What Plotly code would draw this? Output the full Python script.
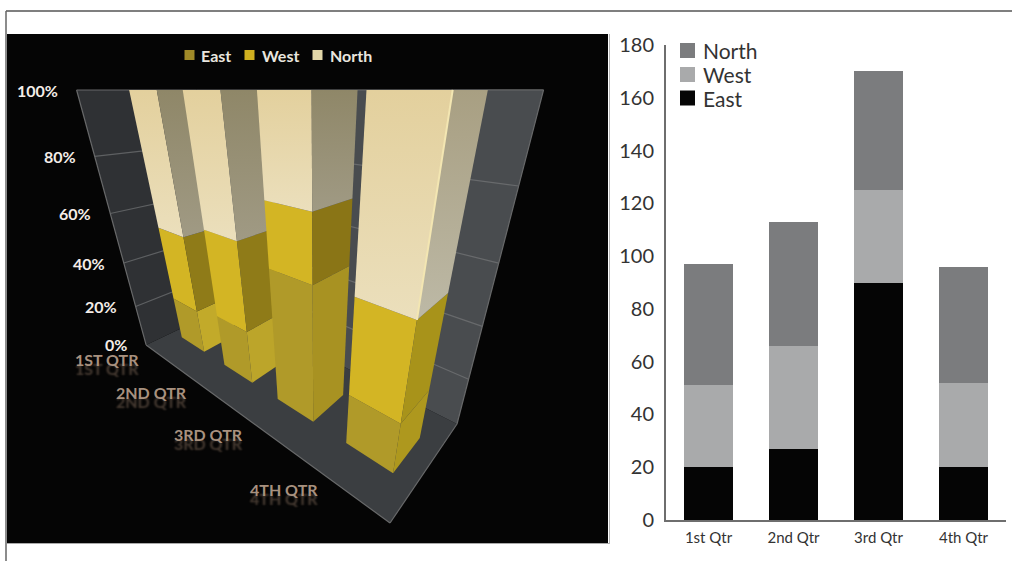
import numpy as np
import plotly.graph_objects as go

# Quarterly sales by region
categories = ["1st Qtr", "2nd Qtr", "3rd Qtr", "4th Qtr"]
east = [20, 27, 90, 20]
west = [31, 39, 35, 32]
north = [46, 47, 45, 44]
y_ticks = [0, 20, 40, 60, 80, 100, 120, 140, 160, 180]
pct_ticks = [0, 20, 40, 60, 80, 100]

# Fill colours of the 3D panel: front face per region, side face per region and quarter
front_colors = {"East": "#B09A29", "West": "#D3B524", "North": ("#E3D09D", "#EBDFBC")}
legend_colors = {"East": "#A08A28", "West": "#D0B020", "North": "#E3D7A8"}
side_colors = {
    "East": ["#C2AA2A", "#BCA52A", "#A89222", "#AE981E"],
    "West": ["#8F7B18", "#8F7B18", "#8A7516", "#A8931A"],
    "North": [("#8F8768", "#A09A84"), ("#8F8768", "#A09A84"), ("#8F8768", "#A09A84"),
              ("#A89F82", "#BDB9A6")],
}
gray_colors = {"East": "#050505", "West": "#A9AAAB", "North": "#7B7C7E"}

# Camera of the perspective view: eye height is the wall height
FOCAL = 378.7
PRINCIPAL = np.array([316.0, 307.0])
NADIR = np.array([0.0, 0.8677, 0.4971])
AXIS_U = np.array([0.7654, 0.3200, -0.5585])   # along the quarters, far to near
AXIS_V = np.array([0.6435, -0.3805, 0.6640])   # across the floor
FRONT_CORNER = np.array([0.1970, 0.5749, 1.008])
FLOOR_LEN = 1.261
FLOOR_DEPTH = 0.450
BAR_HALF = 0.087


def project(u, v, z):
    p = FRONT_CORNER + (u - FLOOR_LEN) * AXIS_U + v * AXIS_V - z * NADIR
    return PRINCIPAL + FOCAL * p[:2] / p[2]


def polygon(points, color):
    """Filled face; a (top, bottom) colour pair gives a vertical gradient."""
    xy = np.array([project(*pt) for pt in points])
    style = dict(fillcolor=color) if isinstance(color, str) else dict(
        fillgradient=dict(type="vertical", colorscale=[[0, color[1]], [1, color[0]]]))
    return go.Scatter(
        x=xy[:, 0], y=xy[:, 1], mode="lines", fill="toself", line=dict(width=0),
        hoverinfo="skip", showlegend=False, xaxis="x", yaxis="y", **style,
    )


def segment(a, b, color, width=1.2):
    xy = np.array([project(*a), project(*b)])
    return go.Scatter(
        x=xy[:, 0], y=xy[:, 1], mode="lines", line=dict(width=width, color=color),
        hoverinfo="skip", showlegend=False, xaxis="x", yaxis="y",
    )


fig = go.Figure()
L, D = FLOOR_LEN, FLOOR_DEPTH

# Floor and the two walls
fig.add_trace(polygon([(0, 0, 0), (L, 0, 0), (L, D, 0), (0, D, 0)], "#3B3E41"))
fig.add_trace(polygon([(0, 0, 0), (0, D, 0), (0, D, 1), (0, 0, 1)], "#2F3134"))
fig.add_trace(polygon([(0, D, 0), (L, D, 0), (L, D, 1), (0, D, 1)], "#494C4F"))
for pct in pct_ticks[1:-1]:
    z = pct / 100
    fig.add_trace(segment((0, 0, z), (0, D, z), "#5E6062"))
    fig.add_trace(segment((0, D, z), (L, D, z), "#686A6C"))
for a, b in [((0, 0, 0), (0, 0, 1)), ((L, D, 0), (L, D, 1)), ((0, 0, 1), (0, D, 1)),
             ((0, D, 1), (L, D, 1)), ((0, 0, 0), (L, 0, 0)), ((L, 0, 0), (L, D, 0))]:
    fig.add_trace(segment(a, b, "#68696A"))

# 100% stacked columns, far quarter first so nearer ones overlap it
v0, v1 = D / 2 - BAR_HALF, D / 2 + BAR_HALF
for i in range(len(categories)):
    total = east[i] + west[i] + north[i]
    uc = (i + 0.5) * L / len(categories)
    u0, u1 = uc - BAR_HALF, uc + BAR_HALF
    base = 0.0
    for name, vals in (("East", east), ("West", west), ("North", north)):
        top = base + vals[i] / total
        fig.add_trace(polygon([(u0, v0, base), (u1, v0, base), (u1, v0, top), (u0, v0, top)],
                              front_colors[name]))
        fig.add_trace(polygon([(u1, v0, base), (u1, v1, base), (u1, v1, top), (u1, v0, top)],
                              side_colors[name][i]))
        base = top
    if i == len(categories) - 1:
        split = (east[i] + west[i]) / total
        fig.add_trace(segment((u1, v0, split), (u1, v0, 1), "#F3E6B2", 2))

# Legend swatches of the 3D panel
panel_legend = [("East", 189.5, 199), ("West", 249.5, 260), ("North", 317.5, 328)]
for name, sx, _ in panel_legend:
    fig.add_trace(go.Scatter(
        x=[sx], y=[55], mode="markers", hoverinfo="skip", showlegend=False,
        marker=dict(symbol="square", size=10, color=legend_colors[name]),
        xaxis="x", yaxis="y",
    ))

# Flat stacked columns on the right
for name, vals in (("East", east), ("West", west), ("North", north)):
    fig.add_trace(go.Bar(
        x=categories, y=vals, name=name, marker=dict(color=gray_colors[name], line_width=0),
        width=0.565, xaxis="x2", yaxis="y2", showlegend=False,
    ))

annotations = []
for name, _, tx in panel_legend:
    annotations.append(dict(
        x=tx, y=55, xref="x", yref="y", text=f"<b>{name}</b>", showarrow=False, xanchor="left",
        font=dict(family="Lato", size=16, color="#E9E6DF"),
    ))
for pct in pct_ticks:
    px, py = project(0, 0, pct / 100)
    annotations.append(dict(
        x=px, y=py, xref="x", yref="y", text=f"<b>{pct}%</b>", showarrow=False, xanchor="right",
        xshift=-17, yshift=0, font=dict(family="Lato", size=16, color="#F4EDE8"),
    ))
for i, cat in enumerate(categories):
    px, py = project((i + 0.5) * L / len(categories), 0, 0)
    annotations.append(dict(
        x=px, y=py, xref="x", yref="y", text=f"<b>{cat.upper()}</b>", showarrow=False,
        xshift=-58, yshift=-1,
        font=dict(family="Lato", size=16, color="#A8917F",
                  shadow="0px 9px 2px rgba(150,125,105,0.45)"),
    ))
right_legend = [("North", 50.5), ("West", 74.5), ("East", 98)]
shapes = [
    dict(type="rect", xref="x", yref="y", x0=7, x1=608, y0=34, y1=543, layer="below",
         fillcolor="#050505", line=dict(width=0)),
    dict(type="line", xref="x", yref="y", x0=6, x1=1012, y0=11, y1=11,
         line=dict(color="#555555", width=1.5)),
    dict(type="line", xref="x", yref="y", x0=6, x1=6, y0=11, y1=561,
         line=dict(color="#666666", width=1.5)),
    dict(type="line", xref="x", yref="y", x0=7, x1=610, y0=543.5, y1=543.5,
         line=dict(color="#AAAAAA", width=1)),
    dict(type="line", xref="x", yref="y", x0=609.5, x1=609.5, y0=34, y1=544,
         line=dict(color="#B5B5B5", width=1)),
]
for name, y in right_legend:
    shapes.append(dict(type="rect", xref="x", yref="y", x0=680, x1=695, y0=y - 7.5, y1=y + 7.5,
                       fillcolor=gray_colors[name], line=dict(width=0)))
    annotations.append(dict(
        x=701, y=y, xref="x", yref="y", text=name, showarrow=False, xanchor="left",
        font=dict(family="Lato", size=21, color="#333333"),
    ))

W, H = 1012, 561
fig.update_layout(
    width=W, height=H, margin=dict(l=0, r=0, t=0, b=0, autoexpand=False),
    paper_bgcolor="white", plot_bgcolor="rgba(0,0,0,0)", barmode="stack",
    showlegend=False, annotations=annotations, shapes=shapes,
    xaxis=dict(domain=[0, 1], range=[0, W], visible=False, fixedrange=True),
    yaxis=dict(domain=[0, 1], range=[H, 0], visible=False, fixedrange=True),
    xaxis2=dict(
        domain=[666 / W, 1006 / W], anchor="y2", showline=True, linecolor="#6E6E6E", linewidth=2,
        showgrid=False, ticks="outside", ticklen=3, tickcolor="rgba(0,0,0,0)",
        tickfont=dict(family="Lato", size=15, color="#333333"), fixedrange=True,
    ),
    yaxis2=dict(
        domain=[(H - 520) / H, (H - 45) / H], anchor="x2", range=[0, 180], tickvals=y_ticks,
        showline=True, linecolor="#6E6E6E", linewidth=2, showgrid=False, zeroline=False,
        ticks="outside", ticklen=6, tickcolor="rgba(0,0,0,0)",
        tickfont=dict(family="Lato", size=20, color="#333333"), fixedrange=True,
    ),
)

fig.write_html("out.html", config={"displayModeBar": False})
